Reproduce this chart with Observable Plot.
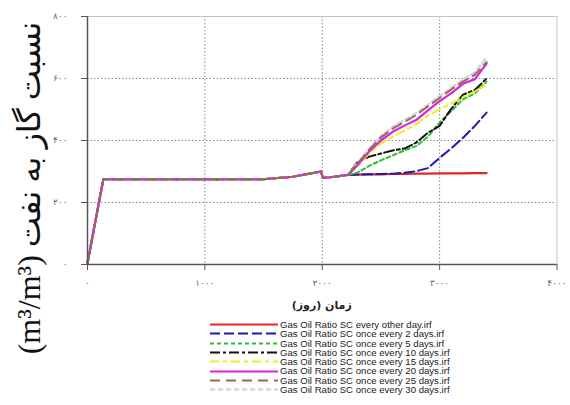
<!DOCTYPE html>
<html>
<head>
<meta charset="utf-8">
<script src="https://cdn.jsdelivr.net/npm/d3@7"></script>
<script src="https://cdn.jsdelivr.net/npm/@observablehq/plot@0.6"></script>
<style>
  html, body { margin: 0; padding: 0; background: #fff; }
  #wrap { position: relative; width: 570px; height: 405px; overflow: hidden; }
  #legend { position: absolute; left: 210px; top: 320px; font-family: "Liberation Sans", Arial, sans-serif; font-size: 9.6px; line-height: 9.3px; color: #222; }
  #legend .row { display: flex; align-items: center; height: 9.3px; line-height: 9.3px; white-space: nowrap; }
  #legend svg { display: block; margin-right: 2px; }
</style>
</head>
<body>
<div id="wrap"><div id="legend"></div></div>
<script>
// ---- data ----
const xTicks = [0, 1000, 2000, 3000, 4000];
const xTickLabels = ["۰", "۱۰۰۰", "۲۰۰۰", "۳۰۰۰", "۴۰۰۰"];
const yTicks = [0, 200, 400, 600, 800];
const yTickLabels = ["۰", "۲۰۰", "۴۰۰", "۶۰۰", "۸۰۰"];
const xLabel = "زمان (روز)";
const yLabel = "نسبت گاز به نفت (m³/m³)";

// shared production history (all cases identical)
const sharedDays = [0, 135, 1500, 1750, 1990, 2005, 2100, 2220];
const sharedGOR  = [5, 275, 275, 283, 300, 279, 283, 289];

// divergent part
const tailDays = [2300, 2400, 2500, 2600, 2700, 2800, 2900, 3000, 3100, 3200, 3300, 3400];
const seriesNames = [
  "Gas Oil Ratio SC every other day.irf",
  "Gas Oil Ratio SC once every 2 days.irf",
  "Gas Oil Ratio SC once every 5 days.irf",
  "Gas Oil Ratio SC once every 10 days.irf",
  "Gas Oil Ratio SC once every 15 days.irf",
  "Gas Oil Ratio SC once every 20 days.irf",
  "Gas Oil Ratio SC once every 25 days.irf",
  "Gas Oil Ratio SC once every 30 days.irf"
];
const gorEveryOther = [290, 291, 291, 292, 292, 293, 293, 294, 294, 294, 295, 295];
const gorEvery2     = [290, 291, 292, 293, 296, 301, 311, 344, 375, 409, 447, 490];
const gorEvery5     = [296, 318, 336, 352, 368, 382, 412, 458, 495, 533, 552, 590];
const gorEvery10    = [330, 348, 358, 368, 374, 393, 425, 447, 503, 548, 563, 600];
const gorEvery15    = [318, 358, 390, 412, 432, 452, 480, 501, 520, 540, 558, 582];
const gorEvery20    = [320, 365, 400, 428, 448, 466, 497, 527, 553, 583, 598, 648];
const gorEvery25    = [325, 370, 410, 438, 460, 482, 510, 537, 565, 590, 612, 653];
const gorEvery30    = [328, 375, 415, 444, 466, 488, 516, 543, 571, 597, 620, 668];
const seriesValues = [gorEveryOther, gorEvery2, gorEvery5, gorEvery10, gorEvery15, gorEvery20, gorEvery25, gorEvery30];

// ---- styles ----
const seriesColors = ["#e3242b", "#1c1cae", "#2cc02c", "#111111", "#f2ef1c", "#dc22dc", "#8e6e60", "#cfcfcf"];
const seriesDash   = [null, "10,4", "4,3", "10,3,3,3", "9,4,4,4", null, "10,6", "5,3"];
const seriesWidth  = [2.2, 2, 2, 2, 2, 2.2, 2, 2];
const drawOrder    = [0, 1, 2, 3, 4, 7, 5, 6];

// ---- build ----
const series = seriesNames.map((name, k) => {
  const pts = sharedDays.map((d, i) => ({day: d, gor: sharedGOR[i]}));
  tailDays.forEach((d, i) => pts.push({day: d, gor: seriesValues[k][i]}));
  return pts;
});

const lineMarks = drawOrder.map(k => Plot.line(series[k], {
  x: "day", y: "gor",
  stroke: seriesColors[k], strokeWidth: seriesWidth[k],
  strokeDasharray: seriesDash[k] || undefined,
  strokeLinejoin: "round"
}));

const plot = Plot.plot({
  width: 570, height: 405,
  marginTop: 16, marginRight: 13.5, marginBottom: 141, marginLeft: 87,
  style: {fontFamily: "DejaVu Sans, sans-serif", fontSize: "9px", color: "#555", background: "transparent"},
  x: {domain: [0, 4000], label: null},
  y: {domain: [0, 800], label: null},
  marks: [
    Plot.gridX([1000, 2000, 3000], {stroke: "#888", strokeOpacity: 1, strokeDasharray: "1.5,2"}),
    Plot.gridY([200, 400, 600], {stroke: "#888", strokeOpacity: 1, strokeDasharray: "1.5,2"}),
    Plot.frame({stroke: "#c4c4c4"}),
    ...lineMarks,
    Plot.ruleX([0], {stroke: "#555", strokeWidth: 1.5}),
    Plot.ruleY([0], {stroke: "#555", strokeWidth: 1.5}),
    Plot.axisX(xTicks, {tickSize: 6, tickPadding: 9, stroke: "#555", fill: "#666",
      tickFormat: d => xTickLabels[xTicks.indexOf(d)], label: null}),
    Plot.axisY(yTicks, {tickSize: 6, tickPadding: 14, stroke: "#555", fill: "#666",
      tickFormat: d => yTickLabels[yTicks.indexOf(d)], label: null})
  ]
});

const svg = d3.select(plot);
const xs = plot.scale("x");
svg.append("text")
  .attr("x", xs.apply(2000)).attr("y", 309)
  .attr("text-anchor", "middle")
  .attr("font-family", "DejaVu Sans, sans-serif")
  .attr("font-weight", "bold").attr("font-size", 11).attr("fill", "#222")
  .attr("direction", "rtl")
  .text(xLabel);
svg.append("text")
  .attr("transform", "translate(40,188) rotate(-90)")
  .attr("text-anchor", "middle")
  .attr("font-family", "Liberation Serif, DejaVu Sans, serif")
  .attr("font-size", 32).attr("fill", "#111")
  .attr("direction", "rtl")
  .text(yLabel);

const wrap = document.getElementById("wrap");
wrap.insertBefore(plot, wrap.firstChild);

// ---- legend ----
const legend = d3.select("#legend");
seriesNames.forEach((name, k) => {
  const row = legend.append("div").attr("class", "row");
  const s = row.append("svg").attr("width", 68).attr("height", 9);
  s.append("line").attr("x1", 0).attr("x2", 68).attr("y1", 4.5).attr("y2", 4.5)
    .attr("stroke", seriesColors[k]).attr("stroke-width", seriesWidth[k])
    .attr("stroke-dasharray", seriesDash[k]);
  row.append("span").text(name);
});
</script>
</body>
</html>
